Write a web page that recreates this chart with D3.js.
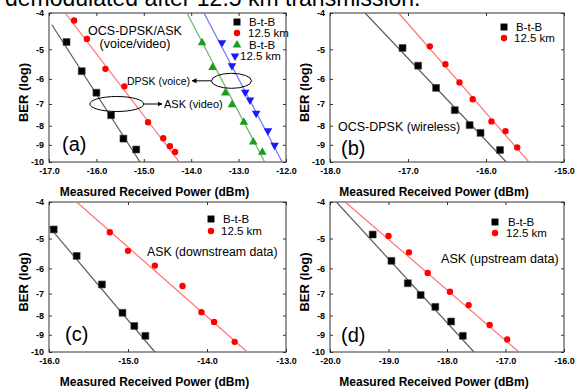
<!DOCTYPE html>
<html>
<head>
<meta charset="utf-8">
<script src="https://cdn.jsdelivr.net/npm/d3@7"></script>
<style>
  body { margin: 0; background: #fff; }
  svg { display: block; font-family: "Liberation Sans", Arial, sans-serif; }
</style>
</head>
<body>
<script>
// BER exponents shown on the y axes (log scale of -log10 BER)
const berTicks = [-4, -5, -6, -7, -8, -9, -10];

// (a) OCS-DPSK/ASK voice/video
const aTicks = [-17, -16, -15, -14, -13, -12];
const aAskBtb = [[-16.63, -4.78], [-16.31, -5.72], [-16.0, -6.53], [-15.69, -7.5], [-15.43, -8.66], [-15.16, -9.26]];
const aAskKm = [[-16.47, -4.19], [-16.2, -4.69], [-15.81, -5.64], [-15.41, -6.28], [-14.91, -7.83], [-14.59, -8.64], [-14.45, -9.08], [-14.34, -9.4]];
const aDpskBtb = [[-13.77, -4.8], [-13.55, -5.59], [-13.28, -6.54], [-13.14, -7.03], [-12.89, -7.83], [-12.69, -8.84], [-12.5, -9.42]];
const aDpskKm = [[-13.35, -4.8], [-13.14, -5.53], [-12.86, -6.51], [-12.76, -6.83], [-12.63, -7.41], [-12.38, -8.25], [-12.24, -9.02]];
const aAskBtbFit = [[-16.94, -4.3], [-15.08, -10]];
const aAskKmFit = [[-16.66, -4], [-14.25, -10]];
const aDpskBtbFit = [[-14.09, -4], [-12.45, -10]];
const aDpskKmFit = [[-13.73, -4], [-12.08, -10]];

// (b) OCS-DPSK wireless
const bTicks = [-18, -17, -16, -15];
const bBtb = [[-17.07, -4.96], [-16.87, -5.53], [-16.64, -6.34], [-16.4, -7.27], [-16.21, -7.97], [-16.07, -8.36], [-15.82, -9.29]];
const bKm = [[-16.72, -4.91], [-16.52, -5.48], [-16.34, -6.13], [-16.17, -6.8], [-15.93, -7.79], [-15.75, -8.27], [-15.6, -9.14]];
const bBtbFit = [[-17.55, -4], [-15.74, -10]];
const bKmFit = [[-17.12, -4], [-15.45, -10]];

// (c) ASK downstream data
const cTicks = [-16, -15, -14, -13];
const cBtb = [[-15.94, -4.73], [-15.65, -5.56], [-15.33, -6.62], [-15.07, -7.87], [-14.92, -8.53], [-14.78, -9.06]];
const cKm = [[-15.23, -4.81], [-15.0, -5.39], [-14.66, -5.9], [-14.31, -6.68], [-14.07, -7.84], [-13.91, -8.32], [-13.65, -9.4]];
const cBtbFit = [[-16.0, -4.65], [-14.66, -10]];
const cKmFit = [[-15.65, -4], [-13.49, -10]];

// (d) ASK upstream data
const dTicks = [-20, -19, -18, -17, -16];
const dBtb = [[-19.27, -4.88], [-18.95, -5.73], [-18.67, -6.57], [-18.45, -7.06], [-18.2, -7.59], [-17.93, -8.3], [-17.73, -9.06]];
const dKm = [[-19.0, -4.92], [-18.65, -5.44], [-18.33, -6.17], [-17.95, -6.92], [-17.63, -7.51], [-17.27, -8.48], [-16.97, -9.26]];
const dBtbFit = [[-19.89, -4], [-17.54, -10]];
const dKmFit = [[-19.74, -4], [-16.77, -10]];

const legendBtb = "B-t-B", legendKm = "12.5 km";

const styles = {
  btb:  { sym: d3.symbolSquare,   size: 48, fill: "#000",    line: "#5a5a5a", rot: 0 },
  km:   { sym: d3.symbolCircle,   size: 32, fill: "#ff0000", line: "#ff7070", rot: 0 },
  gBtb: { sym: d3.symbolTriangle, size: 32, fill: "#1f9a1f", line: "#66bb66", rot: 0 },
  bKm:  { sym: d3.symbolTriangle, size: 32, fill: "#1a1aff", line: "#7070ff", rot: 180 }
};

const svg = d3.select("body").append("svg").attr("width", 576).attr("height", 390);

const defs = svg.append("defs");
defs.append("marker").attr("id", "arr").attr("viewBox", "0 0 10 10")
  .attr("refX", 9).attr("refY", 5).attr("markerWidth", 5).attr("markerHeight", 5)
  .attr("orient", "auto")
  .append("path").attr("d", "M0,0L10,5L0,10z").attr("fill", "#000");

// caption fragment cut off at the top
svg.append("text").attr("x", 5).attr("y", 6).attr("font-size", 23).text("demodulated after 12.5 km transmission.");

const panels = [
  { id: "a", box: [49, 13, 286, 162], ticks: aTicks,
    series: [[aAskBtb, aAskBtbFit, "btb"], [aAskKm, aAskKmFit, "km"], [aDpskBtb, aDpskBtbFit, "gBtb"], [aDpskKm, aDpskKmFit, "bKm"]],
    legend: [["btb", legendBtb, 188, 9, 200], ["km", legendKm, 188, 20, 199], ["gBtb", legendBtb, 188, 32, 200], ["bKm", legendKm, 186, 43, 191]],
    label: [13, 138],
    notes: [["OCS-DPSK/ASK", 86, 22, "middle", 12.5], ["(voice/video)", 86, 35, "middle", 12.5],
            ["DPSK (voice)", 78, 72, "start", 10.5], ["ASK (video)", 115, 95, "start", 11]] },
  { id: "b", box: [330, 13, 564, 162], ticks: bTicks,
    series: [[bBtb, bBtbFit, "btb"], [bKm, bKmFit, "km"]],
    legend: [["btb", legendBtb, 174, 14, 186], ["km", legendKm, 174, 25, 184]],
    label: [11, 142],
    notes: [["OCS-DPSK (wireless)", 8, 118, "start", 12.5]] },
  { id: "c", box: [49, 202, 286, 352], ticks: cTicks,
    series: [[cBtb, cBtbFit, "btb"], [cKm, cKmFit, "km"]],
    legend: [["btb", legendBtb, 162, 17, 174], ["km", legendKm, 162, 29, 172]],
    label: [16, 139],
    notes: [["ASK (downstream data)", 98, 54, "start", 12.3]] },
  { id: "d", box: [330, 202, 564, 352], ticks: dTicks,
    series: [[dBtb, dBtbFit, "btb"], [dKm, dKmFit, "km"]],
    legend: [["btb", legendBtb, 165, 20, 178], ["km", legendKm, 165, 31, 176]],
    label: [11, 140],
    notes: [["ASK (upstream data)", 111, 61, "start", 12.6]] }
];

panels.forEach(p => {
  const [x0, y0, x1, y1] = p.box;
  const x = d3.scaleLinear().domain(d3.extent(p.ticks)).range([x0, x1]);
  // y: log of the BER exponent magnitude, -4 at top
  const yl = d3.scaleLog().domain([4, 10]).range([y0, y1]);
  const y = v => yl(-v);

  const g = svg.append("g");
  g.append("clipPath").attr("id", "clip" + p.id)
    .append("rect").attr("x", x0).attr("y", y0).attr("width", x1 - x0).attr("height", y1 - y0);

  const fmtX = d => d.toFixed(1);
  const fmtY = d => "-" + d;
  const yVals = berTicks.map(v => -v);

  g.append("g").attr("transform", `translate(0,${y1})`)
    .call(d3.axisBottom(x).tickValues(p.ticks).tickFormat(fmtX).tickSize(-3).tickSizeOuter(0).tickPadding(6));
  g.append("g").attr("transform", `translate(0,${y0})`)
    .call(d3.axisTop(x).tickValues(p.ticks).tickFormat("").tickSize(-3).tickSizeOuter(0));
  g.append("g").attr("transform", `translate(${x0},0)`)
    .call(d3.axisLeft(yl).tickValues(yVals).tickFormat(fmtY).tickSize(-3).tickSizeOuter(0).tickPadding(5));
  g.append("g").attr("transform", `translate(${x1},0)`)
    .call(d3.axisRight(yl).tickValues(yVals).tickFormat("").tickSize(-3).tickSizeOuter(0));
  g.selectAll(".domain").remove();
  g.selectAll(".tick line").attr("stroke", "#333");
  g.selectAll(".tick text").attr("font-size", 9).attr("font-weight", "bold")
    .attr("font-family", "'Liberation Sans', Arial, sans-serif").attr("fill", "#000");

  g.append("rect").attr("x", x0).attr("y", y0).attr("width", x1 - x0).attr("height", y1 - y0)
    .attr("fill", "none").attr("stroke", "#333").attr("stroke-width", 1);

  // fitted lines then markers
  const line = d3.line().x(d => x(d[0])).y(d => y(d[1]));
  p.series.forEach(([pts, fit, key]) => {
    g.append("path").datum(fit).attr("d", line).attr("clip-path", `url(#clip${p.id})`)
      .attr("fill", "none").attr("stroke", styles[key].line).attr("stroke-width", 1.2);
  });
  p.series.forEach(([pts, fit, key]) => {
    const s = styles[key];
    g.selectAll(null).data(pts).enter().append("path")
      .attr("d", d3.symbol().type(s.sym).size(s.size))
      .attr("transform", d => `translate(${x(d[0])},${y(d[1])}) rotate(${s.rot})`)
      .attr("fill", s.fill).attr("stroke", key === "btb" ? "#444" : "none").attr("stroke-width", 0.6);
  });

  // legend
  p.legend.forEach(([key, txt, mx, my, tx]) => {
    const s = styles[key];
    g.append("path").attr("d", d3.symbol().type(s.sym).size(s.size))
      .attr("transform", `translate(${x0 + mx},${y0 + my}) rotate(${s.rot})`).attr("fill", s.fill);
    g.append("text").attr("x", x0 + tx).attr("y", y0 + my + 4).attr("font-size", 11.5).text(txt);
  });

  // annotations
  p.notes.forEach(([txt, dx, dy, anchor, fs]) => {
    g.append("text").attr("x", x0 + dx).attr("y", y0 + dy).attr("font-size", fs)
      .attr("text-anchor", anchor).text(txt);
  });
  g.append("text").attr("x", x0 + p.label[0]).attr("y", y0 + p.label[1]).attr("font-size", 20)
    .text("(" + p.id + ")");

  // axis titles
  g.append("text").attr("x", (x0 + x1) / 2 - 13).attr("y", y1 + 34).attr("text-anchor", "middle")
    .attr("font-size", 12).attr("font-weight", "bold").text("Measured Received Power (dBm)");
  g.append("text").attr("transform", `translate(${x0 - 21},${(y0 + y1) / 2 + 5}) rotate(-90)`)
    .attr("text-anchor", "middle").attr("font-size", 13).attr("font-weight", "bold").text("BER (log)");

  // ellipses and arrows in panel (a)
  if (p.id === "a") {
    g.append("ellipse").attr("cx", x(-13.15)).attr("cy", y(-6.07)).attr("rx", 20).attr("ry", 7.5)
      .attr("fill", "none").attr("stroke", "#000").attr("stroke-width", 1);
    g.append("ellipse").attr("cx", x(-15.57)).attr("cy", y(-7.0)).attr("rx", 27).attr("ry", 7.5)
      .attr("fill", "none").attr("stroke", "#000").attr("stroke-width", 1);
    g.append("line").attr("x1", x(-13.15) - 20).attr("x2", x0 + 143).attr("y1", y(-6.07)).attr("y2", y(-6.07))
      .attr("stroke", "#000").attr("marker-end", "url(#arr)");
    g.append("line").attr("x1", x(-15.57) + 27).attr("x2", x0 + 113).attr("y1", y(-7.0)).attr("y2", y(-7.0))
      .attr("stroke", "#000").attr("marker-end", "url(#arr)");
  }
});
</script>
</body>
</html>
